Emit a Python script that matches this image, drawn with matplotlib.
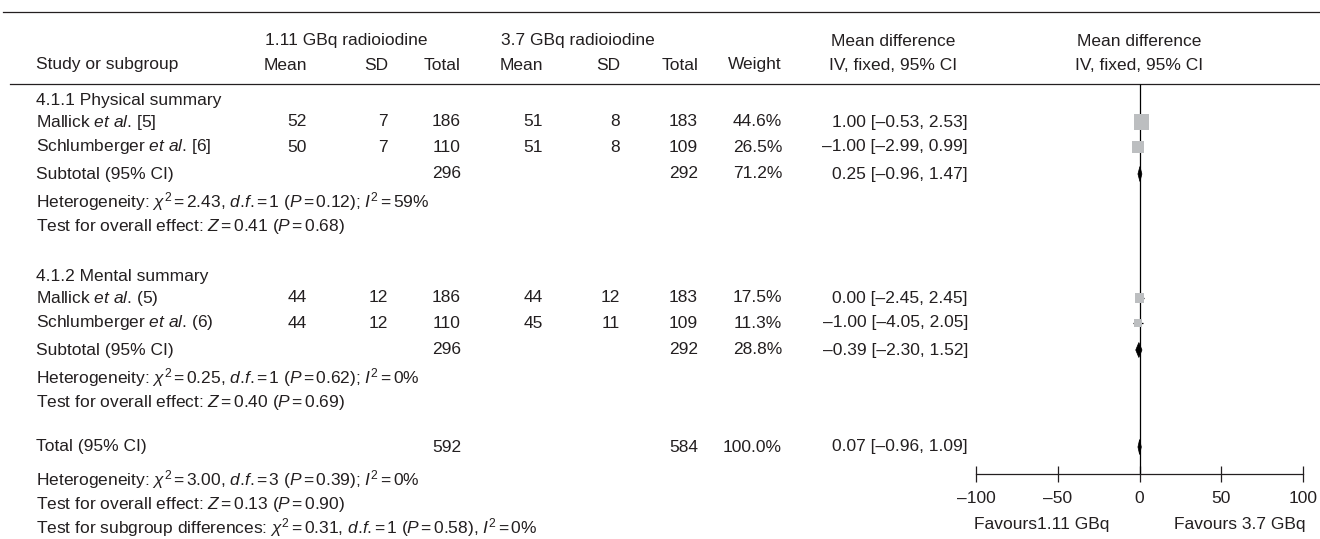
import matplotlib
matplotlib.use('Agg')
import matplotlib.pyplot as plt
from matplotlib.patches import Polygon

plt.rcParams['font.family'] = ['Liberation Sans', 'DejaVu Sans']
plt.rcParams['mathtext.fontset'] = 'custom'
plt.rcParams['mathtext.rm'] = 'Liberation Sans'
plt.rcParams['mathtext.it'] = 'Liberation Sans:italic'
plt.rcParams['mathtext.bf'] = 'Liberation Sans:bold'

# ---------------- data ----------------
subgroup_titles = ['4.1.1 Physical summary', '4.1.2 Mental summary']
study_names = [[r'Mallick $et\ al$. [5]', r'Schlumberger $et\ al$. [6]'],
               [r'Mallick $et\ al$. (5)', r'Schlumberger $et\ al$. (6)']]
mean_low = [[52, 50], [44, 44]]
sd_low = [[7, 7], [12, 12]]
n_low = [[186, 110], [186, 110]]
mean_high = [[51, 51], [44, 45]]
sd_high = [[8, 8], [12, 11]]
n_high = [[183, 109], [183, 109]]
weights = [[44.6, 26.5], [17.5, 11.3]]
md = [[1.00, -1.00], [0.00, -1.00]]
ci_lo = [[-0.53, -2.99], [-2.45, -4.05]]
ci_hi = [[2.53, 0.99], [2.45, 2.05]]

sub_n_low = [296, 296]
sub_n_high = [292, 292]
sub_weight = [71.2, 28.8]
sub_md = [0.25, -0.39]
sub_lo = [-0.96, -2.30]
sub_hi = [1.47, 1.52]
sub_chi2 = [2.43, 0.25]
sub_df = [1, 1]
sub_p_het = [0.12, 0.62]
sub_i2 = [59, 0]
sub_z = [0.41, 0.40]
sub_p_z = [0.68, 0.69]

total_n_low = 592
total_n_high = 584
total_weight = 100.0
total_md = 0.07
total_lo = -0.96
total_hi = 1.09
total_chi2 = 3.00
total_df = 3
total_p_het = 0.39
total_i2 = 0
total_z = 0.13
total_p_z = 0.90
diff_chi2 = 0.31
diff_df = 1
diff_p = 0.58
diff_i2 = 0

axis_ticks = [-100, -50, 0, 50, 100]
group_headers = ['1.11 GBq radioiodine', '3.7 GBq radioiodine']
favours_labels = ['Favours1.11 GBq', 'Favours 3.7 GBq']

# ---------------- helpers ----------------
TXT = '#231f20'
FS = 12.5
EQ = r'$\,$=$\,$'


def dash(s):
    return s.replace('-', '\u2013')


def f2(v):
    return dash(f'{v:.2f}')


def ci_str(m, lo, hi):
    return f'{f2(m)} [{f2(lo)}, {f2(hi)}]'


def het_str(chi2, df, p, i2, sep=';', head='Heterogeneity: '):
    return (head + r'$\chi^2$' + EQ + f'{chi2:.2f}, ' + r'$d$.$f$.' + EQ + f'{df} (' +
            r'$P$' + EQ + f'{p:.2f}){sep} ' + r'$I^2$' + EQ + f'{i2}%')


def z_str(z, p):
    return r'Test for overall effect: $Z$' + EQ + f'{z:.2f} (' + r'$P$' + EQ + f'{p:.2f})'


# ---------------- layout (pixels) ----------------
W, H = 1320, 539
fig = plt.figure(figsize=(W / 100, H / 100), dpi=100)
bg = fig.add_axes([0, 0, 1, 1])
bg.set_xlim(0, W)
bg.set_ylim(H, 0)
bg.axis('off')

X_LEFT = 36
X_MEAN1, X_SD1, X_TOT1 = 307, 388, 461
X_MEAN2, X_SD2, X_TOT2 = 543, 620, 698
X_WEIGHT = 782
X_CI_RIGHT = 968
X_CI_HEAD = 893
X_FOREST_C = 1139

Y_TOP_LINE = 12
Y_HEAD1 = 41
Y_HEAD2 = 65
Y_HEAD_LINE = 84

group_rows = [
    dict(title=101, studies=[122, 147], sub=174, het=202, z=227),
    dict(title=277, studies=[298, 323], sub=350, het=378, z=403),
]
Y_TOTAL = 447
Y_TOT_HET = 480
Y_TOT_Z = 505
Y_TOT_DIFF = 528
Y_AXIS = 474


def t(x, y, s, ha='left'):
    bg.text(x, y, s, ha=ha, va='center', fontsize=FS, color=TXT)


# rules
bg.plot([3, W], [Y_TOP_LINE, Y_TOP_LINE], color=TXT, lw=0.9)
bg.plot([10, W], [Y_HEAD_LINE, Y_HEAD_LINE], color=TXT, lw=0.9)

# headers
t(265, Y_HEAD1, group_headers[0])
t(501, Y_HEAD1, group_headers[1])
t(X_CI_HEAD, Y_HEAD1, 'Mean difference', 'center')
t(X_FOREST_C, Y_HEAD1, 'Mean difference', 'center')
t(X_LEFT, Y_HEAD2, 'Study or subgroup')
for x, s in [(X_MEAN1, 'Mean'), (X_SD1, 'SD'), (X_TOT1, 'Total'),
             (X_MEAN2, 'Mean'), (X_SD2, 'SD'), (X_TOT2, 'Total'),
             (X_WEIGHT, 'Weight')]:
    t(x, Y_HEAD2, s, 'right')
t(X_CI_HEAD, Y_HEAD2, 'IV, fixed, 95% CI', 'center')
t(X_FOREST_C, Y_HEAD2, 'IV, fixed, 95% CI', 'center')

# forest axes
fx0, fx1 = 976, 1303
ax = fig.add_axes([fx0 / W, 0, (fx1 - fx0) / W, 1])
ax.set_xlim(axis_ticks[0], axis_ticks[-1])
ax.set_ylim(H, 0)
ax.patch.set_alpha(0)
for sp in ['left', 'right', 'top']:
    ax.spines[sp].set_visible(False)
ax.spines['bottom'].set_position(('data', Y_AXIS))
ax.spines['bottom'].set_linewidth(0.9)
ax.spines['bottom'].set_color(TXT)
ax.set_yticks([])
ax.set_xticks(axis_ticks)
ax.set_xticklabels([dash(str(v)) for v in axis_ticks])
ax.tick_params(axis='x', direction='inout', length=12, width=0.9, colors=TXT,
               labelsize=FS, pad=6)
ax.vlines(0, Y_HEAD_LINE, Y_AXIS, color='black', lw=0.9)

max_w = max(max(w) for w in weights)
SQ_MAX = 120  # marker area (pt^2) of the heaviest study


def diamond(m, lo, hi, y, h=7.5):
    ax.add_patch(Polygon([(lo, y), (m, y - h), (hi, y), (m, y + h)],
                         closed=True, facecolor='black', edgecolor='black', lw=0.5))


for g in range(2):
    rows = group_rows[g]
    t(X_LEFT, rows['title'], subgroup_titles[g])
    for i in range(2):
        y = rows['studies'][i]
        t(X_LEFT, y, study_names[g][i])
        t(X_MEAN1, y, str(mean_low[g][i]), 'right')
        t(X_SD1, y, str(sd_low[g][i]), 'right')
        t(X_TOT1, y, str(n_low[g][i]), 'right')
        t(X_MEAN2, y, str(mean_high[g][i]), 'right')
        t(X_SD2, y, str(sd_high[g][i]), 'right')
        t(X_TOT2, y, str(n_high[g][i]), 'right')
        t(X_WEIGHT, y, f'{weights[g][i]:.1f}%', 'right')
        t(X_CI_RIGHT, y, ci_str(md[g][i], ci_lo[g][i], ci_hi[g][i]), 'right')
        ax.hlines(y, ci_lo[g][i], ci_hi[g][i], color='black', lw=0.9, zorder=2)
        ax.scatter([md[g][i]], [y], s=SQ_MAX * weights[g][i] / max_w, marker='s',
                   color='#bcbec0', edgecolors='none', zorder=3)
    y = rows['sub']
    t(X_LEFT, y, 'Subtotal (95% CI)')
    t(X_TOT1, y, str(sub_n_low[g]), 'right')
    t(X_TOT2, y, str(sub_n_high[g]), 'right')
    t(X_WEIGHT, y, f'{sub_weight[g]:.1f}%', 'right')
    t(X_CI_RIGHT, y, ci_str(sub_md[g], sub_lo[g], sub_hi[g]), 'right')
    diamond(sub_md[g], sub_lo[g], sub_hi[g], y)
    t(X_LEFT, rows['het'], het_str(sub_chi2[g], sub_df[g], sub_p_het[g], sub_i2[g]))
    t(X_LEFT, rows['z'], z_str(sub_z[g], sub_p_z[g]))

# total
t(X_LEFT, Y_TOTAL, 'Total (95% CI)')
t(X_TOT1, Y_TOTAL, str(total_n_low), 'right')
t(X_TOT2, Y_TOTAL, str(total_n_high), 'right')
t(X_WEIGHT, Y_TOTAL, f'{total_weight:.1f}%', 'right')
t(X_CI_RIGHT, Y_TOTAL, ci_str(total_md, total_lo, total_hi), 'right')
diamond(total_md, total_lo, total_hi, Y_TOTAL)
t(X_LEFT, Y_TOT_HET, het_str(total_chi2, total_df, total_p_het, total_i2))
t(X_LEFT, Y_TOT_Z, z_str(total_z, total_p_z))
t(X_LEFT, Y_TOT_DIFF, het_str(diff_chi2, diff_df, diff_p, diff_i2, sep=',',
                              head='Test for subgroup differences: '))

t(1042, 525, favours_labels[0], 'center')
t(1240, 525, favours_labels[1], 'center')

fig.savefig('out.png', dpi=100)
